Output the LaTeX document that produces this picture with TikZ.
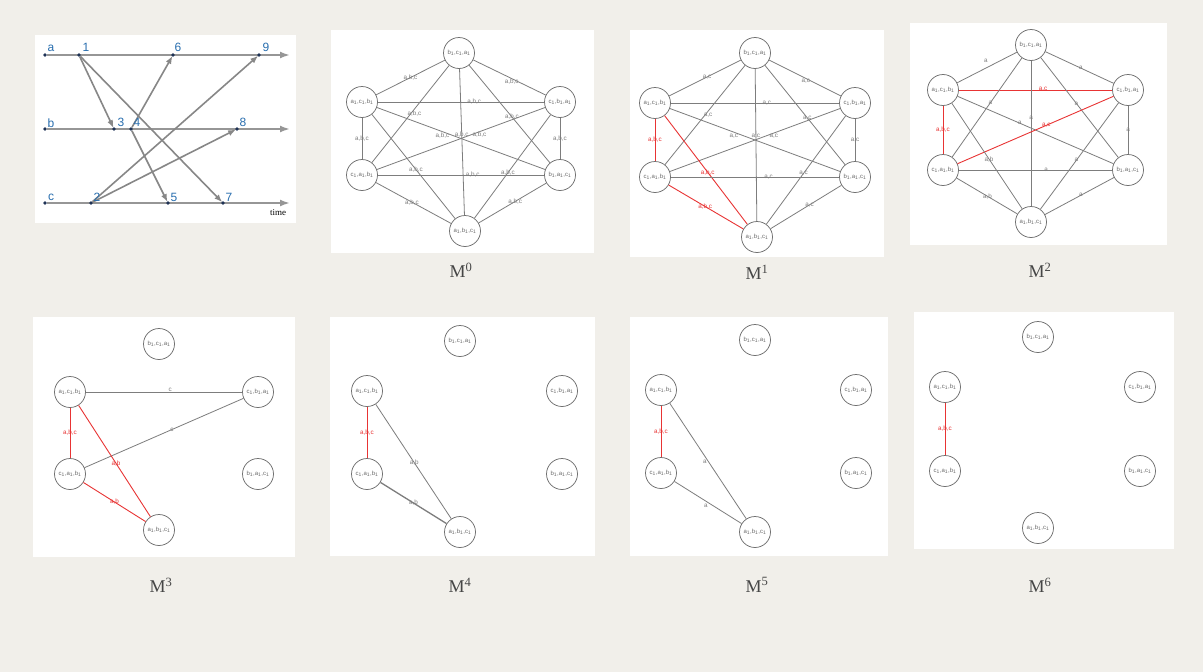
\documentclass[tikz,border=0pt]{standalone}
\usepackage{fontspec}
\setmainfont{Liberation Serif}
\newfontfamily\arial{Liberation Sans}
\usetikzlibrary{arrows.meta}
\definecolor{bg}{RGB}{241,239,234}
\definecolor{ln}{RGB}{125,125,125}
\definecolor{rd}{RGB}{232,52,52}
\definecolor{bl}{RGB}{40,110,175}
\definecolor{nv}{RGB}{30,50,85}
\definecolor{capc}{RGB}{70,70,70}
\definecolor{axc}{RGB}{150,150,150}
\definecolor{msgc}{RGB}{135,135,135}
\pgfdeclarelayer{paper}
\pgfdeclarelayer{back}
\pgfsetlayers{paper,back,main}
\newcommand\trip[3]{#1\textsubscript{1},#2\textsubscript{1},#3\textsubscript{1}}
\newcommand\hexnodes[7]{%
  \node[st] (#1t) at (#2) {\trip bca};
  \node[st] (#1ul) at (#3,#5) {\trip acb};
  \node[st] (#1ur) at (#4,#5) {\trip cba};
  \node[st] (#1ll) at (#3,#6) {\trip cab};
  \node[st] (#1lr) at (#4,#6) {\trip bac};
  \node[st] (#1b) at (#7) {\trip abc};
}
\tikzset{
  st/.style={circle, draw=ln!90!black, line width=0.75pt, minimum size=31pt, inner sep=0pt,
    font=\arial\fontsize{6}{7}\selectfont, text=ln!85!black},
  ed/.style={draw=ln, line width=0.8pt},
  rdedge/.style={draw=rd, line width=0.9pt},
  el/.style={font=\arial\fontsize{6.3}{7}\selectfont, text=ln, inner sep=0.3pt},
  rl/.style={el, text=rd},
  mcap/.style={font=\fontsize{18}{20}\selectfont, text=capc, inner sep=0pt},
  dot/.style={circle, fill=nv, inner sep=0pt, minimum size=3.6pt},
  axis/.style={draw=axc, line width=2pt, -{Latex[length=10pt,width=7pt]}},
  msg/.style={draw=msgc, line width=1.6pt, -{Latex[length=8pt,width=6pt]}, shorten >=-1pt},
  evl/.style={font=\arial\fontsize{12}{12}\selectfont, text=bl, inner sep=0pt},
}
\begin{document}
\begin{tikzpicture}[x=1pt,y=-1pt]
\begin{pgfonlayer}{paper}
\fill[bg] (0,0) rectangle (1203,672);
% panels
\fill[white] (35,35) rectangle (296,223);
\fill[white] (331,30) rectangle (594,253);
\fill[white] (630,30) rectangle (884,257);
\fill[white] (910,23) rectangle (1167,245);
\fill[white] (33,317) rectangle (295,557);
\fill[white] (330,317) rectangle (595,556);
\fill[white] (630,317) rectangle (888,556);
\fill[white] (914,312) rectangle (1174,549);
\end{pgfonlayer}

% ---------- time diagram ----------
\node[dot] (la) at (45,55) {};
\node[dot] (lb) at (45,129) {};
\node[dot] (lc) at (45,203) {};
\coordinate (ea) at (290,55);
\coordinate (eb) at (290,129);
\coordinate (ec) at (290,203);
\node[dot] (e1) at (79,55) {};
\node[dot] (e6) at (173,55) {};
\node[dot] (e9) at (259,55) {};
\node[dot] (e3) at (114,129) {};
\node[dot] (e4) at (131,129) {};
\node[dot] (e8) at (237,129) {};
\node[dot] (e2) at (91,203) {};
\node[dot] (e5) at (168,203) {};
\node[dot] (e7) at (223,203) {};
\begin{pgfonlayer}{back}
\draw[axis] (la) -- (ea);
\draw[axis] (lb) -- (eb);
\draw[axis] (lc) -- (ec);
\end{pgfonlayer}
\draw[msg] (e1) -- (e3);
\draw[msg] (e1) -- (e7);
\draw[msg] (e4) -- (e6);
\draw[msg] (e4) -- (e5);
\draw[msg] (e2) -- (e9);
\draw[msg] (e2) -- (e8);
\node[evl] (ta) at (51,48) {a};
\node[evl] (tb) at (51,123) {b};
\node[evl] (tc) at (51,197) {c};
\node[evl] (t1) at (86,47) {1};
\node[evl] (t6) at (178,47) {6};
\node[evl] (t9) at (266,47) {9};
\node[evl] (t3) at (121,122) {3};
\node[evl] (t4) at (137,122) {4};
\node[evl] (t8) at (243,122) {8};
\node[evl] (t2) at (97,197) {2};
\node[evl] (t5) at (174,197) {5};
\node[evl] (t7) at (229,197) {7};
\node[font=\fontsize{9}{10}\selectfont, inner sep=0pt] (ttime) at (278,213) {time};

% ---------- M0 ----------
\hexnodes{A}{459,53}{362}{560}{102}{175}{465,231}
\draw[ed] (At) -- node[el,pos=.5]{a,b,c} (Aul);
\draw[ed] (At) -- node[el,pos=.53,yshift=-3pt]{a,b,c} (Aur);
\draw[ed] (Aul) -- node[el,pos=.58]{a,b,c} (Aur);
\draw[ed] (At) -- node[el,pos=.5,xshift=4pt]{a,b,c} (All);
\draw[ed] (At) -- node[el,pos=.53]{a,b,c} (Alr);
\draw[ed] (At) -- node[el,pos=.45]{a,b,c} (Ab);
\draw[ed] (Aul) -- node[el,pos=.39,yshift=-4pt]{a,b,c} (Alr);
\draw[ed] (All) -- node[el,pos=.61,yshift=-3pt]{a,b,c} (Aur);
\draw[ed] (Aul) -- node[el,pos=.5]{a,b,c} (All);
\draw[ed] (Aur) -- node[el,pos=.5]{a,b,c} (Alr);
\draw[ed] (Aul) -- node[el,pos=.53]{a,b,c} (Ab);
\draw[ed] (Aur) -- node[el,pos=.56]{a,b,c} (Ab);
\draw[ed] (All) -- node[el,pos=.57]{a,b,c} (Alr);
\draw[ed] (All) -- node[el,pos=.48]{a,b,c} (Ab);
\draw[ed] (Alr) -- node[el,pos=.46]{a,b,c} (Ab);
\node[mcap] (capA) at (461,270) {M\textsuperscript{0}};

% ---------- M1 ----------
\hexnodes{B}{755,53}{655}{855}{103}{177}{757,237}
\draw[ed] (Bt) -- node[el,pos=.47]{a,c} (Bul);
\draw[ed] (Bt) -- node[el,pos=.51,yshift=-3pt]{a,c} (Bur);
\draw[ed] (Bul) -- node[el,pos=.57]{a,c} (Bur);
\draw[ed] (Bt) -- node[el,pos=.5,xshift=3pt]{a,c} (Bll);
\draw[ed] (Bt) -- node[el,pos=.53]{a,c} (Blr);
\draw[ed] (Bt) -- node[el,pos=.44]{a,c} (Bb);
\draw[ed] (Bul) -- node[el,pos=.375,yshift=-4pt]{a,c} (Blr);
\draw[ed] (Bll) -- node[el,pos=.61,yshift=-3pt]{a,c} (Bur);
\draw[rdedge] (Bul) -- node[rl,pos=.5]{a,b,c} (Bll);
\draw[ed] (Bur) -- node[el,pos=.5]{a,c} (Blr);
\draw[rdedge] (Bul) -- node[rl,pos=.52]{a,b,c} (Bb);
\draw[ed] (Bur) -- node[el,pos=.53]{a,c} (Bb);
\draw[ed] (Bll) -- node[el,pos=.58]{a,c} (Blr);
\draw[rdedge] (Bll) -- node[rl,pos=.49]{a,b,c} (Bb);
\draw[ed] (Blr) -- node[el,pos=.45]{a,c} (Bb);
\node[mcap] (capB) at (757,272) {M\textsuperscript{1}};

% ---------- M2 ----------
\hexnodes{C}{1031,45}{943}{1128}{90}{170}{1031,222}
\draw[ed] (Ct) -- node[el,pos=.52,yshift=7pt]{a} (Cul);
\draw[ed] (Ct) -- node[el,pos=.52]{a} (Cur);
\draw[rdedge] (Cul) -- node[rl,pos=.55,yshift=1pt]{a,c} (Cur);
\draw[ed] (Ct) -- node[el,pos=.45]{a} (Cll);
\draw[ed] (Ct) -- node[el,pos=.46]{a} (Clr);
\draw[ed] (Ct) -- node[el,pos=.39]{a} (Cb);
\draw[ed] (Cul) -- node[el,pos=.4]{a} (Clr);
\draw[rdedge] (Cll) -- node[rl,pos=.57]{a,c} (Cur);
\draw[rdedge] (Cul) -- node[rl,pos=.5]{a,b,c} (Cll);
\draw[ed] (Cur) -- node[el,pos=.5]{a} (Clr);
\draw[ed] (Cul) -- node[el,pos=.53]{a,b} (Cb);
\draw[ed] (Cur) -- node[el,pos=.54]{a} (Cb);
\draw[ed] (Cll) -- node[el,pos=.57]{a} (Clr);
\draw[ed] (Cll) -- node[el,pos=.51]{a,b} (Cb);
\draw[ed] (Clr) -- node[el,pos=.48]{a} (Cb);
\node[mcap] (capC) at (1040,270) {M\textsuperscript{2}};

% ---------- M3 ----------
\hexnodes{D}{159,344}{70}{258}{392}{474}{159,530}
\draw[ed] (Dul) -- node[el,pos=.54,yshift=2pt]{c} (Dur);
\draw[ed] (Dll) -- node[el,pos=.55]{c} (Dur);
\draw[rdedge] (Dul) -- node[rl,pos=.5]{a,b,c} (Dll);
\draw[rdedge] (Dul) -- node[rl,pos=.52]{a,b} (Db);
\draw[rdedge] (Dll) -- node[rl,pos=.5]{a,b} (Db);
\node[mcap] (capD) at (161,585) {M\textsuperscript{3}};

% ---------- M4 ----------
\hexnodes{E}{460,341}{367}{562}{391}{474}{460,532}
\draw[rdedge] (Eul) -- node[rl,pos=.5]{a,b,c} (Ell);
\draw[ed] (Eul) -- node[el,pos=.51]{a,b} (Eb);
\draw[ed, line width=1.3pt] (Ell) -- node[el,pos=.5]{a,b} (Eb);
\node[mcap] (capE) at (460,585) {M\textsuperscript{4}};

% ---------- M5 ----------
\hexnodes{F}{755,340}{661}{856}{390}{473}{755,532}
\draw[rdedge] (Ful) -- node[rl,pos=.5]{a,b,c} (Fll);
\draw[ed] (Ful) -- node[el,pos=.51,xshift=-4pt]{a} (Fb);
\draw[ed] (Fll) -- node[el,pos=.47,yshift=-5pt]{a} (Fb);
\node[mcap] (capF) at (757,585) {M\textsuperscript{5}};

% ---------- M6 ----------
\hexnodes{G}{1038,337}{945}{1140}{387}{471}{1038,528}
\draw[rdedge] (Gul) -- node[rl,pos=.5]{a,b,c} (Gll);
\node[mcap] (capG) at (1040,585) {M\textsuperscript{6}};
\end{tikzpicture}
\end{document}
